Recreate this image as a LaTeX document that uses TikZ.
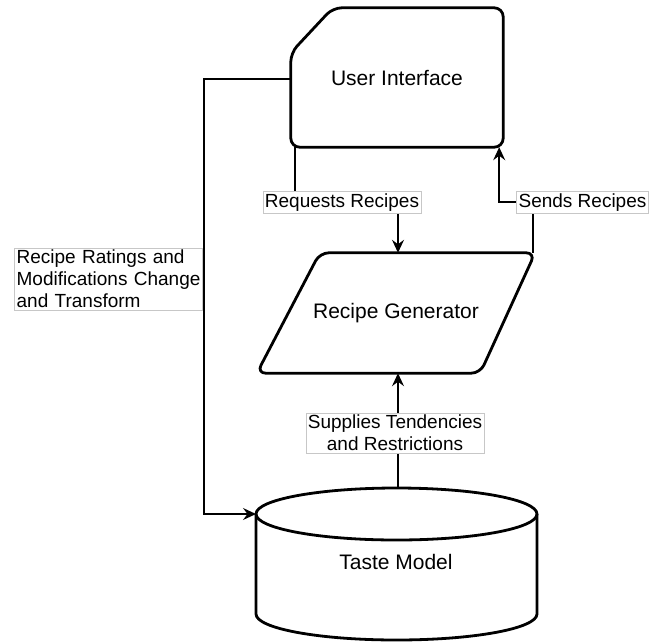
\documentclass[tikz,border=0pt]{standalone}
\usepackage{fontspec}
\setmainfont{Liberation Sans}
\usetikzlibrary{arrows.meta,calc}
\begin{document}
\begin{tikzpicture}[x=1pt,y=-1pt,
  shapeline/.style={line width=2.8pt,line join=round},
  conn/.style={line width=1.5pt},
  arr/.style={conn,-{Stealth[length=13pt,width=12pt,inset=4.5pt]}},
  elabel/.style={draw=black!22,line width=0.7pt,fill=white,inner sep=2pt,
    font=\fontsize{19}{22}\selectfont},
  mainlabel/.style={font=\fontsize{21}{25}\selectfont,inner sep=0pt}]
\useasboundingbox (0,0) rectangle (659,641);

% --- User Interface: card with a cut top-left corner
\node[mainlabel,minimum width=212pt,minimum height=139pt] (ui) at (397,77.5) {User Interface};
\draw[shapeline,rounded corners=9pt]
  ($(ui.north west)+(42,0)$) -- (ui.north east) -- (ui.south east)
  -- (ui.south west) -- ($(ui.north west)+(0,45)$) -- cycle;

% --- Recipe Generator: parallelogram
\node[mainlabel,minimum width=278pt,minimum height=120pt] (rg) at (396,313) {Recipe Generator};
\draw[shapeline,rounded corners=9pt]
  ($(rg.north west)+(63,0)$) -- (rg.north east) -- ($(rg.south east)+(-55,0)$)
  -- (rg.south west) -- cycle;

% --- Taste Model: cylinder
\node[mainlabel] (tm) at (396,562) {Taste Model};
\coordinate (tmC) at (396.5,514);
\coordinate (tmW) at (256,514);
\coordinate (tmN) at (398,488);
\draw[shapeline] (tmC) ellipse [x radius=140.5,y radius=26];
\draw[shapeline] (256,514) -- (256,614)
  .. controls (256,628.4) and (318.9,640) .. (396.5,640)
  .. controls (474.1,640) and (537,628.4) .. (537,614) -- (537,514);

% --- connectors
\draw[arr] ($(ui.south west)+(4,0)$) -- ++(0,55) -| ($(rg.north)+(2,0)$);
\draw[arr] ($(rg.north east)+(-2,0)$) -- ++(0,-51) -| ($(ui.south east)+(-4,0)$);
\draw[arr] (tmN) -- ($(rg.south)+(2,0)$);
\draw[arr] ($(ui.west)+(0,1.5)$) -- (204,79) |- (tmW);

% --- connector labels
\node[elabel] (lreq) at (342,202.5) {Requests Recipes};
\node[elabel] (lsend) at (582.5,202.5) {Sends Recipes};
\node[elabel,align=center] (lsup) at (395,433) {Supplies Tendencies\\and Restrictions};
\node[elabel,align=left,text width=184pt,anchor=east] (lrate) at (203,279)
  {Recipe Ratings and\\Modifications Change\\and Transform};
\end{tikzpicture}
\end{document}
